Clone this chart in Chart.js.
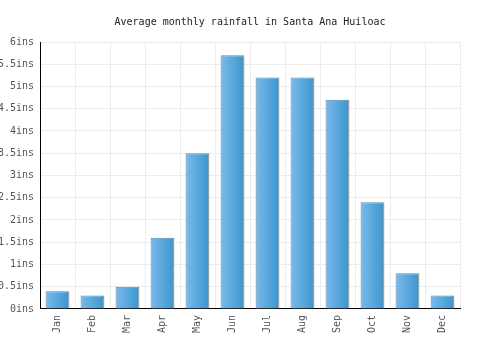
<!DOCTYPE html>
<html>
<head>
<meta charset="utf-8">
<script src="https://cdn.jsdelivr.net/npm/chart.js@4"></script>
<style>
  html, body { margin: 0; padding: 0; background: #fff; }
  #wrap { width: 500px; height: 350px; }
</style>
</head>
<body>
<div id="wrap"><canvas id="rainChart" width="500" height="350"></canvas></div>
<script>
// data
const months = ['Jan', 'Feb', 'Mar', 'Apr', 'May', 'Jun', 'Jul', 'Aug', 'Sep', 'Oct', 'Nov', 'Dec'];
const rainfall = [0.4, 0.3, 0.5, 1.6, 3.5, 5.7, 5.2, 5.2, 4.7, 2.4, 0.8, 0.3];
const chartTitle = 'Average monthly rainfall in Santa Ana Huiloac';

const catPct = 0.68;

// horizontal gradient for each bar, worked out from the x scale
function barFill(context) {
    const chart = context.chart;
    const xs = chart.scales.x;
    if (!xs || context.dataIndex === undefined) return '#5aa8de';
    const cx = xs.getPixelForValue(context.dataIndex);
    const w = (xs.width / months.length) * catPct;
    if (!isFinite(cx) || !isFinite(w) || w <= 0) return '#5aa8de';
    const g = chart.ctx.createLinearGradient(cx - w / 2, 0, cx + w / 2, 0);
    g.addColorStop(0, '#7db9ea');
    g.addColorStop(1, '#3896cf');
    return g;
}

const fontMono = { family: 'DejaVu Sans Mono', size: 10, weight: 'normal' };

const config = {
    type: 'bar',
    data: {
        labels: months,
        datasets: [{
            data: rainfall,
            backgroundColor: barFill,
            borderColor: '#808080',
            borderWidth: 1,
            borderSkipped: 'bottom',
            categoryPercentage: catPct,
            barPercentage: 1
        }]
    },
    options: {
        responsive: false,
        animation: false,
        layout: { padding: { left: 0, right: 0, top: 0, bottom: 11 } },
        plugins: {
            legend: { display: false },
            tooltip: { enabled: false },
            title: {
                display: true,
                text: chartTitle,
                color: '#222',
                font: fontMono,
                padding: { top: 16, bottom: 14 }
            }
        },
        scales: {
            x: {
                grid: { color: '#ececec', drawTicks: false, offset: true },
                border: { color: '#000', width: 1 },
                ticks: {
                    color: '#555',
                    font: fontMono,
                    minRotation: 90,
                    maxRotation: 90,
                    padding: 6
                }
            },
            y: {
                min: 0,
                max: 6,
                afterFit: s => { s.width = 40; },
                grid: { color: '#ececec', drawTicks: false },
                border: { color: '#000', width: 1 },
                ticks: {
                    stepSize: 0.5,
                    color: '#555',
                    font: fontMono,
                    padding: 6,
                    callback: v => v + 'ins'
                }
            },
            // empty right axis, only keeps a 40px margin
            yRight: {
                position: 'right',
                afterFit: s => { s.width = 40; },
                grid: { drawOnChartArea: false, drawTicks: false },
                border: { display: false },
                ticks: { display: false }
            }
        }
    }
};

new Chart(document.getElementById('rainChart').getContext('2d'), config);
</script>
</body>
</html>
